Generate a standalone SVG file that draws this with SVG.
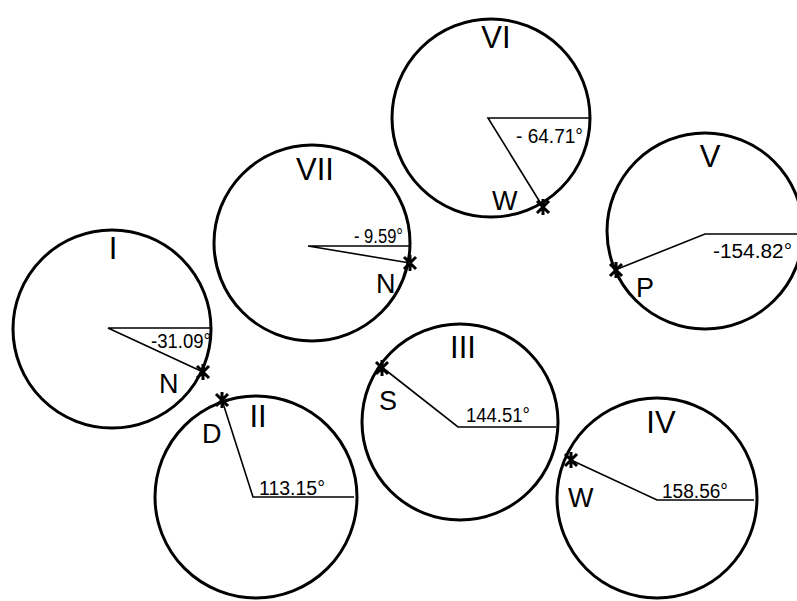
<svg xmlns="http://www.w3.org/2000/svg" width="797" height="601" viewBox="0 0 797 601">
<style>
.c{fill:none;stroke:#000;stroke-width:3}
.s{fill:none;stroke:#000;stroke-width:1.6}
.num{font-family:"Liberation Sans",Arial,sans-serif;font-size:31px;text-anchor:middle;fill:#000}
.lt{font-family:"Liberation Sans",Arial,sans-serif;font-size:27px;fill:#000}
.ang{font-family:"Liberation Sans",Arial,sans-serif;font-size:20px;fill:#000}
</style>
<defs>
<g id="star"><path d="M-6,-6 L6,6 M-6,6 L6,-6 M0,-8 L0,8" fill="none" stroke="#000" stroke-width="3"/></g>
</defs>
<rect width="797" height="601" fill="#fff"/>
<g id="node-I">
<circle class="c" cx="112" cy="329" r="99"/>
<path class="s" d="M211,328 L108,328 L203,372"/>
<use href="#star" x="203" y="372"/>
<text class="num" x="113" y="259">I</text>
<text class="lt" x="159" y="393">N</text>
<text class="ang" x="151" y="348" textLength="60" lengthAdjust="spacingAndGlyphs">-31.09°</text>
</g>
<g id="node-VII">
<circle class="c" cx="312" cy="243" r="98"/>
<path class="s" d="M409,246 L308,246 L410,263"/>
<use href="#star" x="410" y="263"/>
<text class="num" x="315" y="180">VII</text>
<text class="lt" x="376" y="293">N</text>
<text class="ang" x="354" y="243" textLength="49" lengthAdjust="spacingAndGlyphs">- 9.59°</text>
</g>
<g id="node-VI">
<circle class="c" cx="491" cy="118" r="99"/>
<path class="s" d="M589,118 L488,118 L543,207"/>
<use href="#star" x="543" y="207"/>
<text class="num" x="496" y="48">VI</text>
<text class="lt" x="492" y="210">W</text>
<text class="ang" x="516" y="143" textLength="67" lengthAdjust="spacingAndGlyphs">- 64.71°</text>
</g>
<g id="node-V">
<circle class="c" cx="705" cy="231" r="98"/>
<path class="s" d="M797,234 L705,234 L615,270"/>
<use href="#star" x="616" y="270"/>
<text class="num" x="710" y="167">V</text>
<text class="lt" x="636" y="297">P</text>
<text class="ang" x="713" y="258" textLength="79" lengthAdjust="spacingAndGlyphs">-154.82°</text>
</g>
<g id="node-II">
<circle class="c" cx="256" cy="497" r="101"/>
<path class="s" d="M354,497 L253,497 L222,400"/>
<use href="#star" x="222" y="400"/>
<text class="num" x="258" y="427">II</text>
<text class="lt" x="202" y="443">D</text>
<text class="ang" x="259" y="495" textLength="66" lengthAdjust="spacingAndGlyphs">113.15°</text>
</g>
<g id="node-III">
<circle class="c" cx="460" cy="422" r="98"/>
<path class="s" d="M556,427 L458,427 L383,368"/>
<use href="#star" x="382" y="368"/>
<text class="num" x="463" y="358">III</text>
<text class="lt" x="379" y="410">S</text>
<text class="ang" x="466" y="422" textLength="64" lengthAdjust="spacingAndGlyphs">144.51°</text>
</g>
<g id="node-IV">
<circle class="c" cx="657" cy="498" r="100"/>
<path class="s" d="M754,500 L657,500 L571,460"/>
<use href="#star" x="571" y="460"/>
<text class="num" x="661" y="433">IV</text>
<text class="lt" x="568" y="507">W</text>
<text class="ang" x="662" y="498" textLength="66" lengthAdjust="spacingAndGlyphs">158.56°</text>
</g>
<g id="connectors"/>
</svg>
